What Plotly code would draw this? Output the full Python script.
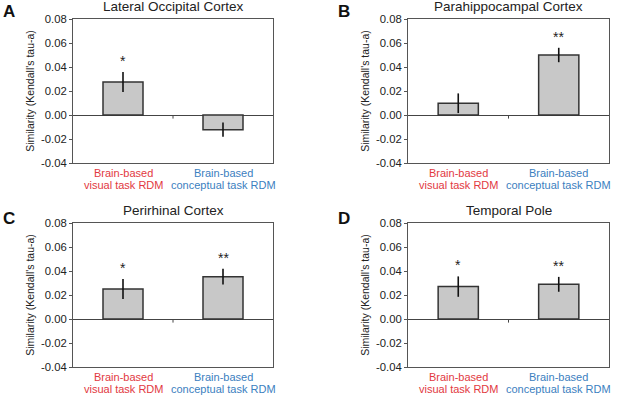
import plotly.graph_objects as go

# ---- data ----
panel_letters = ["A", "B", "C", "D"]
regions = ["Lateral Occipital Cortex", "Parahippocampal Cortex", "Perirhinal Cortex", "Temporal Pole"]
category_lines = [["Brain-based", "visual task RDM"], ["Brain-based", "conceptual task RDM"]]
visual_vals = [0.0275, 0.0098, 0.025, 0.027]
visual_err = [0.0083, 0.0082, 0.0083, 0.0085]
conceptual_vals = [-0.0122, 0.050, 0.0353, 0.0289]
conceptual_err = [0.006, 0.006, 0.0065, 0.0062]
visual_sig = ["*", "", "*", "*"]
conceptual_sig = ["", "**", "**", "**"]
y_ticks = [-0.04, -0.02, 0.00, 0.02, 0.04, 0.06, 0.08]
y_tick_labels = ["-0.04", "-0.02", "0.00", "0.02", "0.04", "0.06", "0.08"]

RED = "#e2393f"
BLUE = "#3b80c0"
FONT = "Liberation Sans, Arial, sans-serif"

W, H = 617, 395
# plot frames in pixels: (left, right, top, bottom)
frames = [(73, 273, 19, 163), (408, 609, 19, 163), (73, 273, 223, 367), (408, 609, 223, 367)]

fig = go.Figure()
layout = dict(
    width=W, height=H, margin=dict(l=0, r=0, t=0, b=0, autoexpand=False),
    paper_bgcolor="white", plot_bgcolor="white", showlegend=False,
    font=dict(family=FONT, size=11, color="#222"),
    annotations=[], shapes=[],
)

xpos = [0.5, 1.5]
cat_colors = [RED, BLUE]

for i in range(4):
    l, r, t, b = frames[i]
    xa = "x" if i == 0 else f"x{i+1}"
    ya = "y" if i == 0 else f"y{i+1}"
    vals = [visual_vals[i], conceptual_vals[i]]
    errs = [visual_err[i], conceptual_err[i]]
    fig.add_trace(go.Bar(
        x=xpos, y=vals, width=0.4, xaxis=xa, yaxis=ya, hoverinfo="skip",
        marker=dict(color="#c8c8c8", line=dict(color="#333333", width=1.5)),
        error_y=dict(type="data", array=errs, color="#111111", thickness=1.6, width=0),
    ))
    xkey = "xaxis" if i == 0 else f"xaxis{i+1}"
    ykey = "yaxis" if i == 0 else f"yaxis{i+1}"
    layout[xkey] = dict(
        domain=[l / W, r / W], anchor=ya, range=[0, 2], automargin=False,
        showticklabels=False, ticks="",
        showline=True, mirror=True, linecolor="#555555", linewidth=1,
        showgrid=False, zeroline=False, fixedrange=True,
    )
    layout[ykey] = dict(
        domain=[1 - b / H, 1 - t / H], anchor=xa, range=[-0.04, 0.08], automargin=False,
        tickmode="array", tickvals=y_ticks, ticktext=y_tick_labels,
        ticks="outside", ticklen=3, tickcolor="#555555", fixedrange=True,
        tickfont=dict(size=11.3), showline=True, mirror=True, linecolor="#555555", linewidth=1,
        showgrid=False, zeroline=True, zerolinecolor="#444444", zerolinewidth=1,
        title=dict(text="Similarity (Kendall's tau-a)", font=dict(size=10.5), standoff=4),
    )
    # small category-separator tick at zero line
    layout["shapes"].append(dict(
        type="line", xref=xa, yref=ya, x0=1, x1=1, y0=0, y1=-0.003,
        line=dict(color="#444444", width=1),
    ))
    # category labels (one annotation per line)
    for xv, lines, col in zip(xpos, category_lines, cat_colors):
        for k, txt in enumerate(lines):
            layout["annotations"].append(dict(
                x=xv, y=1 - (b + 9.5 + 12.5 * k) / H, xref=xa, yref="paper",
                text=txt, showarrow=False, xanchor="center", yanchor="middle",
                font=dict(size=11, color=col),
            ))
    # significance stars
    for xv, v, e, s in zip(xpos, vals, errs, [visual_sig[i], conceptual_sig[i]]):
        if s:
            layout["annotations"].append(dict(
                x=xv, y=max(v, 0) + e, xref=xa, yref=ya, text=s, showarrow=False,
                yanchor="bottom", yshift=1, font=dict(size=14, color="#222"),
            ))
    # title
    layout["annotations"].append(dict(
        x=(l + r) / 2 / W, y=1 - (t - 12) / H, xref="paper", yref="paper",
        text=regions[i], showarrow=False, xanchor="center", yanchor="middle",
        font=dict(size=13.5, color="#222"),
    ))
    # panel letter
    layout["annotations"].append(dict(
        x=(l - 72) / W, y=1 - (t - 19 + (0 if i < 2 else 3)) / H, xref="paper", yref="paper",
        text=f"<b>{panel_letters[i]}</b>", showarrow=False, xanchor="left", yanchor="top",
        font=dict(size=17, color="#111"),
    ))

fig.update_layout(**layout)
fig.write_html(
    "out.html",
    config={"displayModeBar": False, "staticPlot": True},
    post_script="document.body.style.margin='0';document.body.style.overflow='hidden';",
)
